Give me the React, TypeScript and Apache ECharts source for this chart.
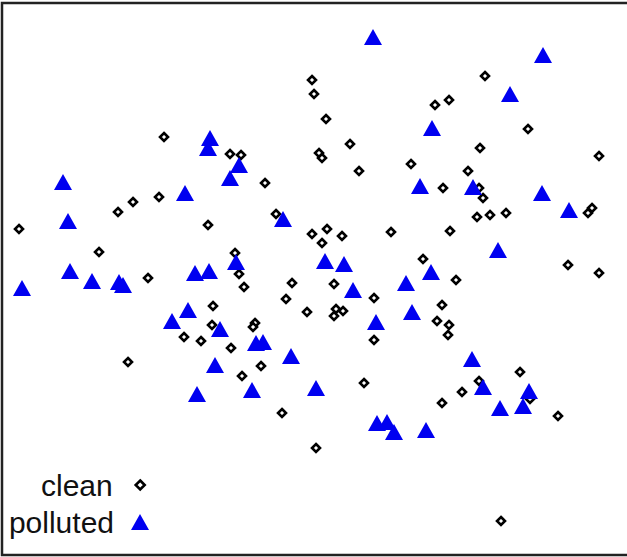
import React, { useEffect, useRef } from "react";
import * as echarts from "echarts";

const seriesNames = ["clean", "polluted"];

// ordination scores on an arbitrary plotting scale (x to the right, y downward)
const cleanPoints: [number, number][] = [
  [19, 229], [164, 137], [118, 212], [133, 202], [159, 197], [208, 225], [99, 252],
  [148, 278], [128, 362], [184, 337], [201, 341], [230, 154], [241, 155], [265, 183],
  [276, 214], [312, 80], [314, 94], [326, 119], [350, 144], [319, 153], [322, 158],
  [359, 171], [411, 164], [485, 76], [435, 105], [449, 100], [528, 129], [480, 148],
  [599, 156], [468, 171], [443, 188], [479, 188], [483, 198], [477, 217], [490, 215],
  [506, 213], [592, 208], [588, 213], [450, 231], [423, 259], [456, 280], [568, 265],
  [599, 273], [442, 305], [437, 321], [449, 325], [448, 335], [312, 234], [327, 229],
  [322, 243], [342, 236], [391, 232], [235, 253], [239, 274], [244, 287], [292, 283],
  [334, 284], [286, 299], [213, 306], [374, 298], [307, 312], [336, 309], [343, 311],
  [334, 316], [212, 325], [255, 323], [253, 327], [231, 348], [374, 340], [261, 366],
  [242, 376], [364, 383], [282, 413], [316, 448], [520, 372], [479, 381], [462, 392],
  [530, 399], [442, 403], [558, 416], [501, 521],
];

const pollutedPoints: [number, number][] = [
  [373, 37], [543, 55], [510, 94], [432, 128], [210, 138], [208, 148], [239, 165],
  [230, 178], [63, 182], [185, 193], [420, 186], [473, 187], [542, 193], [569, 210],
  [68, 221], [283, 219], [498, 250], [70, 271], [92, 281], [119, 282], [123, 285],
  [22, 288], [195, 273], [209, 271], [236, 262], [325, 261], [344, 264], [431, 272],
  [406, 283], [353, 290], [188, 310], [172, 321], [412, 312], [220, 329], [376, 322],
  [256, 343], [263, 342], [291, 356], [215, 365], [197, 394], [252, 390], [316, 388],
  [377, 423], [387, 422], [394, 432], [426, 430], [472, 359], [483, 387], [529, 391],
  [500, 408], [523, 406],
];

export default function App() {
  const ref = useRef<HTMLDivElement>(null);
  useEffect(() => {
    document.body.style.margin = "0";
    if (!ref.current) return;
    const chart = echarts.init(ref.current, undefined, { renderer: "svg" });
    const legendText = {
      fontSize: 30,
      fontFamily: "Liberation Sans, Arial, sans-serif",
      color: "#111",
      lineHeight: 32,
    };
    chart.setOption({
      animation: false,
      backgroundColor: "#fff",
      grid: { left: 0, right: 0, top: 0, bottom: 0 },
      xAxis: { type: "value", min: 0, max: 627, show: false },
      yAxis: { type: "value", min: 0, max: 557, inverse: true, show: false },
      legend: [
        {
          data: [seriesNames[0]],
          orient: "vertical",
          align: "right",
          right: 481,
          top: 469,
          padding: 0,
          itemWidth: 9,
          itemHeight: 9,
          itemStyle: { borderWidth: 2.6, borderColor: "#000", color: "#fff" },
          textStyle: { ...legendText, padding: [0, 18, 0, 0] },
          selectedMode: false,
        },
        {
          data: [seriesNames[1]],
          orient: "vertical",
          align: "right",
          right: 478,
          top: 506,
          padding: 0,
          itemWidth: 18,
          itemHeight: 16,
          itemStyle: { borderWidth: 0, color: "#0000f0" },
          textStyle: { ...legendText, padding: [0, 12, 0, 0] },
          selectedMode: false,
        },
      ],
      graphic: [
        {
          type: "rect",
          shape: { x: 2, y: 3, width: 640, height: 552 },
          style: { fill: "none", stroke: "#222", lineWidth: 2.5 },
          silent: true,
          z: 100,
        },
      ],
      series: [
        {
          name: seriesNames[0],
          type: "scatter",
          data: cleanPoints,
          symbol: "diamond",
          symbolSize: 8,
          itemStyle: { color: "#fff", borderColor: "#000", borderWidth: 2.6, opacity: 1 },
        },
        {
          name: seriesNames[1],
          type: "scatter",
          data: pollutedPoints,
          symbol: "triangle",
          symbolSize: [18, 16],
          itemStyle: { color: "#0000f0", borderWidth: 0, opacity: 1 },
        },
      ],
    });
    return () => chart.dispose();
  }, []);
  return <div ref={ref} style={{ width: 627, height: 557 }} />;
}
